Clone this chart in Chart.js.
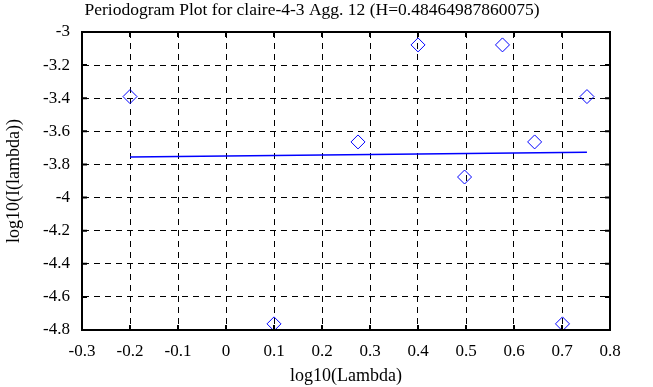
<!DOCTYPE html>
<html lang="en">
<head>
    <meta charset="UTF-8" />
    <title>Periodogram Plot</title>
    <script src="https://cdn.jsdelivr.net/npm/chart.js"></script>
    <style>
        body { margin: 0; background: #fff; }
        .chart-container { width: 653px; height: 387px; }
    </style>
</head>
<body>
    <div class="chart-container">
        <canvas id="periodChart" width="653" height="387"></canvas>
    </div>
    <script>
        // periodogram points
        const logLambda = [-0.2, 0.1, 0.275, 0.4, 0.497, 0.576, 0.643, 0.701, 0.752];
        const logPower = [-3.39, -4.763, -3.664, -3.078, -3.876, -3.078, -3.664, -4.763, -3.39];

        // least squares fit line (endpoints)
        const fitX = [-0.2, 0.752];
        const fitY = [-3.755, -3.726];

        const titleText = 'Periodogram Plot for claire-4-3 Agg. 12 (H=0.48464987860075)';
        const xLabel = 'log10(Lambda)';
        const yLabel = 'log10(I(lambda))';

        const serif = "'Liberation Serif', 'Times New Roman', serif";
        const fmt = v => String(Number(v.toFixed(1)));

        // frame, inward ticks and title text like the original plot
        const framePlugin = {
            id: 'frame',
            afterDraw(chart) {
                const { ctx, chartArea: a, scales } = chart;
                ctx.save();
                ctx.strokeStyle = '#000';
                ctx.lineWidth = 2;
                ctx.strokeRect(a.left, a.top, a.right - a.left, a.bottom - a.top);
                ctx.beginPath();
                scales.x.ticks.forEach((t, i) => {
                    const px = scales.x.getPixelForTick(i);
                    ctx.moveTo(px, a.bottom); ctx.lineTo(px, a.bottom - 5);
                    ctx.moveTo(px, a.top); ctx.lineTo(px, a.top + 5);
                });
                scales.y.ticks.forEach((t, i) => {
                    const py = scales.y.getPixelForTick(i);
                    ctx.moveTo(a.left, py); ctx.lineTo(a.left + 5, py);
                    ctx.moveTo(a.right, py); ctx.lineTo(a.right - 5, py);
                });
                ctx.stroke();
                ctx.fillStyle = '#000';
                ctx.font = '17.5px ' + serif;
                ctx.textAlign = 'center';
                ctx.textBaseline = 'middle';
                ctx.fillText(titleText, 312, 10);
                ctx.restore();
            }
        };

        const ctx = document.getElementById('periodChart').getContext('2d');
        new Chart(ctx, {
            type: 'scatter',
            data: {
                datasets: [{
                    label: 'periodogram',
                    data: logLambda.map((x, i) => ({ x: x, y: logPower[i] })),
                    pointStyle: 'rectRot',
                    pointRadius: 7,
                    pointBorderWidth: 1,
                    borderColor: '#0000ff',
                    backgroundColor: 'rgba(0,0,0,0)'
                }, {
                    label: 'fit',
                    data: fitX.map((x, i) => ({ x: x, y: fitY[i] })),
                    showLine: true,
                    pointRadius: 0,
                    borderColor: '#0000ff',
                    borderWidth: 1.5
                }]
            },
            options: {
                responsive: false,
                animation: false,
                layout: { padding: { top: 32, right: 43, left: 0, bottom: 0 } },
                plugins: {
                    legend: { display: false },
                    tooltip: { enabled: false }
                },
                scales: {
                    x: {
                        type: 'linear',
                        min: -0.3,
                        max: 0.8,
                        ticks: {
                            stepSize: 0.1,
                            color: '#000',
                            font: { family: serif, size: 17 },
                            padding: 11,
                            maxRotation: 0,
                            callback: v => fmt(v)
                        },
                        grid: { color: '#000', drawTicks: false },
                        border: { dash: [6, 5], color: '#000', width: 2 },
                        title: {
                            display: true,
                            text: xLabel,
                            color: '#000',
                            font: { family: serif, size: 18 },
                            padding: 0
                        },
                        afterFit: s => { s.height = 57; }
                    },
                    y: {
                        type: 'linear',
                        min: -4.8,
                        max: -3,
                        ticks: {
                            stepSize: 0.2,
                            color: '#000',
                            font: { family: serif, size: 17 },
                            padding: 12,
                            callback: v => fmt(v)
                        },
                        grid: { color: '#000', drawTicks: false },
                        border: { dash: [6, 5], color: '#000', width: 2 },
                        title: {
                            display: true,
                            text: yLabel,
                            color: '#000',
                            font: { family: serif, size: 18 },
                            padding: 3
                        },
                        afterFit: s => { s.width = 82; }
                    }
                }
            },
            plugins: [framePlugin]
        });
    </script>
</body>
</html>
